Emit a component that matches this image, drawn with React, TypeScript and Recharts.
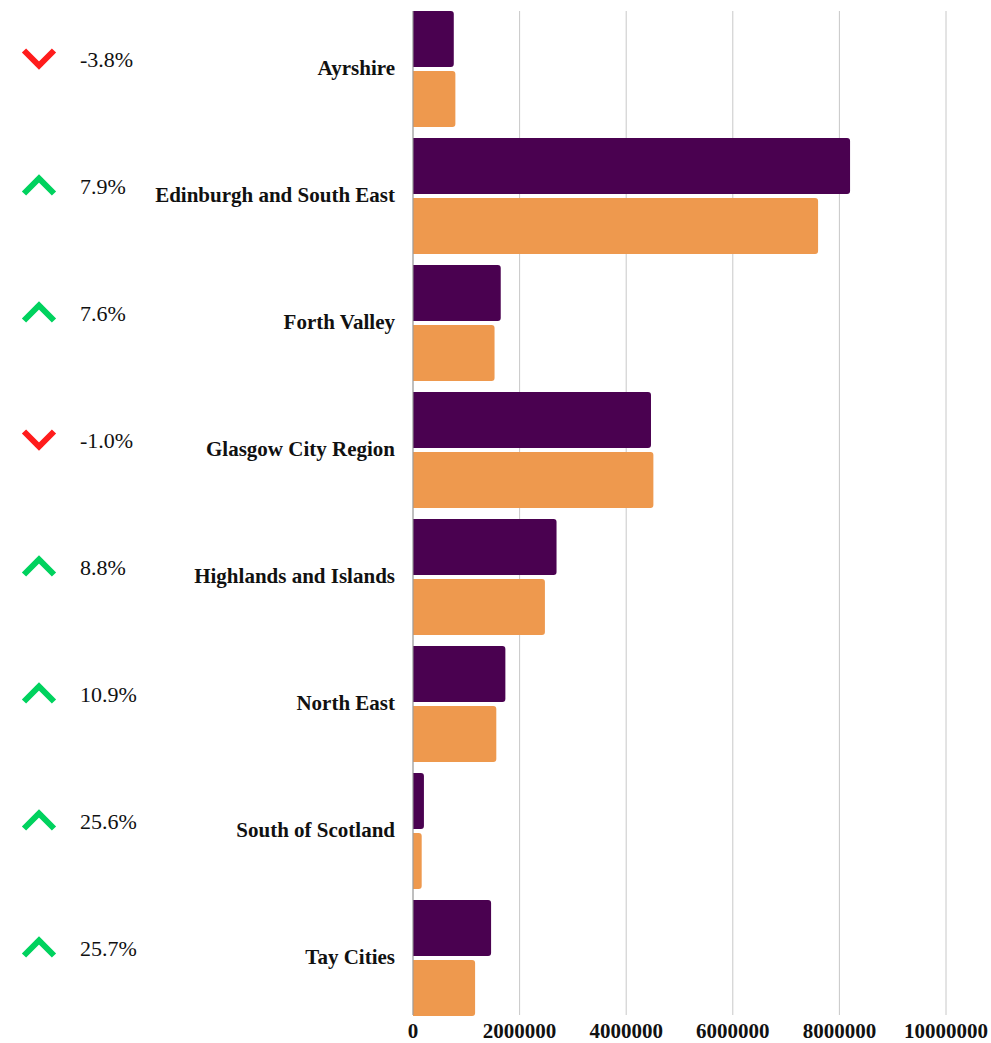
import React from "react";
import { BarChart, Bar, XAxis, YAxis, CartesianGrid } from "recharts";

// values
const regions = [
  "Ayrshire",
  "Edinburgh and South East",
  "Forth Valley",
  "Glasgow City Region",
  "Highlands and Islands",
  "North East",
  "South of Scotland",
  "Tay Cities",
];
const currentValues = [765000, 8200000, 1646000, 4465000, 2693000, 1733000, 205000, 1465000];
const previousValues = [795000, 7600000, 1530000, 4510000, 2475000, 1563000, 163000, 1165000];
const changes = [-3.8, 7.9, 7.6, -1.0, 8.8, 10.9, 25.6, 25.7];
const xTicks = [0, 2000000, 4000000, 6000000, 8000000, 10000000];

const data = regions.map((region, i) => ({
  region,
  current: currentValues[i],
  previous: previousValues[i],
  change: changes[i],
}));

const FONT = '"Liberation Serif", "Times New Roman", serif';
const PURPLE = "#4a0150";
const ORANGE = "#ee994e";
const UP = "#00d25e";
const DOWN = "#ff1c1c";

function RegionTick(props: any) {
  const { y, payload, index } = props;
  const change = changes[index];
  const up = change >= 0;
  const cy = y - 10;
  const cx = 39;
  const chevron = up
    ? `M${cx - 15},${cy + 8} L${cx},${cy - 7} L${cx + 15},${cy + 8}`
    : `M${cx - 15},${cy - 8} L${cx},${cy + 7} L${cx + 15},${cy - 8}`;
  return (
    <g>
      <path d={chevron} fill="none" stroke={up ? UP : DOWN} strokeWidth={6} />
      <text x={80} y={cy + 8} fontFamily={FONT} fontSize={22} fill="#111">
        {change.toFixed(1)}%
      </text>
      <text
        x={395}
        y={y + 6}
        textAnchor="end"
        fontFamily={FONT}
        fontSize={21}
        fontWeight="bold"
        fill="#111"
      >
        {payload.value}
      </text>
    </g>
  );
}

function ValueTick(props: any) {
  const { x, payload } = props;
  return (
    <text
      x={x}
      y={1038}
      textAnchor="middle"
      fontFamily={FONT}
      fontSize={21}
      fontWeight="bold"
      fill="#111"
    >
      {payload.value}
    </text>
  );
}

export default function App() {
  return (
    <div style={{ position: "absolute", left: 0, top: 0, background: "#fff" }}>
      <BarChart
        layout="vertical"
        width={991}
        height={1043}
        data={data}
        margin={{ top: 11, right: 45, bottom: 0, left: 0 }}
        barCategoryGap={6}
        barGap={4}
      >
        <CartesianGrid horizontal={false} stroke="#c8c8c8" strokeDasharray="none" />
        <XAxis
          type="number"
          domain={[0, 10000000]}
          ticks={xTicks}
          interval={0}
          height={28}
          axisLine={false}
          tickLine={false}
          tick={<ValueTick />}
        />
        <YAxis
          type="category"
          dataKey="region"
          width={413}
          interval={0}
          padding={{ top: -6, bottom: -6 }}
          axisLine={{ stroke: "#9a9a9a" }}
          tickLine={false}
          tick={<RegionTick />}
        />
        <Bar dataKey="current" fill={PURPLE} radius={[0, 3, 3, 0]} isAnimationActive={false} />
        <Bar dataKey="previous" fill={ORANGE} radius={[0, 3, 3, 0]} isAnimationActive={false} />
      </BarChart>
    </div>
  );
}
